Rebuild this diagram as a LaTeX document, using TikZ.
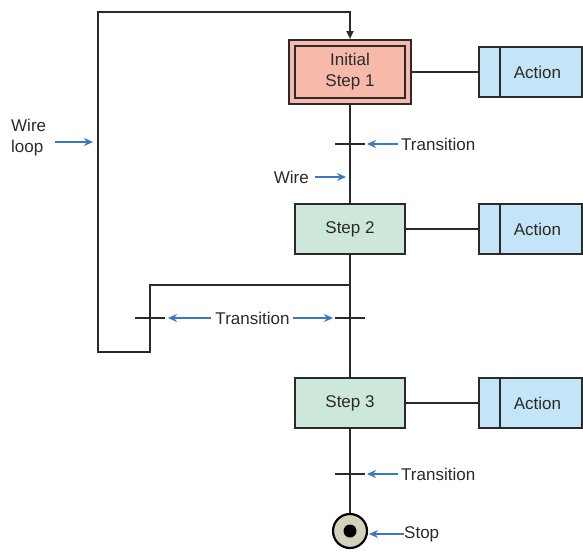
\documentclass[tikz,border=0pt]{standalone}
\usepackage{fontspec}
\setmainfont{Liberation Sans}
\usetikzlibrary{arrows.meta}
\definecolor{salmon}{HTML}{F6B9AA}
\definecolor{mint}{HTML}{CDE8DA}
\definecolor{skyb}{HTML}{C4E5F7}
\definecolor{arrblue}{HTML}{3B78C2}
\definecolor{ink}{HTML}{2A2A2A}
\definecolor{stopfill}{HTML}{D3D1BC}
\tikzset{
  wire/.style={draw=ink, line width=2pt},
  boxline/.style={draw=ink, line width=2pt},
  stepbox/.style={boxline, fill=mint, minimum width=110pt, minimum height=50pt, inner sep=0pt, text=ink},
  actbox/.style={boxline, fill=skyb, minimum width=103pt, minimum height=50pt, inner sep=0pt, text=ink},
  lbl/.style={text=ink, inner sep=0pt, font=\fontsize{17}{19}\selectfont},
  callout/.style={draw=arrblue, line width=1.8pt, -{Stealth[length=9pt,width=8pt]}},
  trans/.style={draw=ink, line width=2pt},
}
\begin{document}
\begin{tikzpicture}[x=1pt,y=-1pt, font=\fontsize{17}{19}\selectfont]
\useasboundingbox (0,0) rectangle (583,552);
% steps
\node[boxline, fill=salmon, minimum width=122pt, minimum height=64pt, inner sep=0pt] (s1o) at (350,72) {};
\node[boxline, fill=salmon, minimum width=110pt, minimum height=52pt, inner sep=0pt, align=center, text=ink, font=\fontsize{17}{21}\selectfont] (s1) at (350,72) {Initial\\Step 1};
\node[stepbox] (s2) at (350,229) {Step 2};
\node[stepbox] (s3) at (350,403) {Step 3};
% actions
\node[actbox] (a1) at (530.5,72) {\hspace*{14pt}Action};
\node[actbox] (a2) at (530.5,229) {\hspace*{14pt}Action};
\node[actbox] (a3) at (530.5,403) {\hspace*{14pt}Action};
\foreach \a in {a1,a2,a3}{
  \draw[boxline] ([xshift=22pt]\a.north west) -- ([xshift=22pt]\a.south west);
}
\draw[wire] (s1o.east) -- (a1.west);
\draw[wire] (s2.east) -- (a2.west);
\draw[wire] (s3.east) -- (a3.west);
% stop
\node[circle, draw=black, line width=2.2pt, fill=stopfill, minimum size=34pt, inner sep=0pt] (stop) at (350,531) {};
\node[circle, fill=black, minimum size=13pt, inner sep=0pt] (stopdot) at (stop.center) {};
% main line
\draw[wire] (s1o.south) -- (s2.north);
\draw[wire] (s2.south) -- (s3.north);
\draw[wire] (s3.south) -- (stop.north);
% loop
\coordinate (j) at (350,285);
\coordinate (c1) at (150,285);
\coordinate (c2) at (150,352);
\coordinate (c3) at (98,352);
\coordinate (c4) at (98,12);
\coordinate (c5) at (350,12);
\draw[wire, -{Triangle[length=8pt,width=7pt]}] (j) -- (c1) -- (c2) -- (c3) -- (c4) -- (c5) -- (s1o.north);
% transitions
\coordinate (t1) at (350,144);
\coordinate (t2) at (350,318);
\coordinate (t2l) at (150,318);
\coordinate (t3) at (350,474);
\foreach \t in {t1,t2,t2l,t3}{
  \draw[trans] ([xshift=-15pt]\t) -- ([xshift=15pt]\t);
}
% labels
\node[lbl, anchor=west] (lt1) at (401,144) {Transition};
\coordinate (lt1e) at (367,144);
\draw[callout] ([xshift=-3pt]lt1.west) -- (lt1e);
\node[lbl, anchor=east] (lw) at (309,177) {Wire};
\coordinate (lwe) at (346,177);
\draw[callout] ([xshift=6pt]lw.east) -- (lwe);
\node[lbl, anchor=west, align=left, font=\fontsize{17}{21}\selectfont] (lloop) at (11,138) {Wire\\loop};
\coordinate (lloope) at (93,142);
\draw[callout] (55,142) -- (lloope);
\node[lbl] (lt2) at (252.5,318) {Transition};
\coordinate (lt2l) at (168,318);
\coordinate (lt2r) at (333,318);
\draw[callout] ([xshift=-4pt]lt2.west) -- (lt2l);
\draw[callout] ([xshift=3pt]lt2.east) -- (lt2r);
\node[lbl, anchor=west] (lt3) at (401,474) {Transition};
\coordinate (lt3e) at (367,474);
\draw[callout] ([xshift=-3pt]lt3.west) -- (lt3e);
\node[lbl, anchor=west] (lstop) at (404,534) {Stop};
\coordinate (lstope) at (369,534);
\draw[callout] (lstop.west) -- (lstope);
\end{tikzpicture}
\end{document}
